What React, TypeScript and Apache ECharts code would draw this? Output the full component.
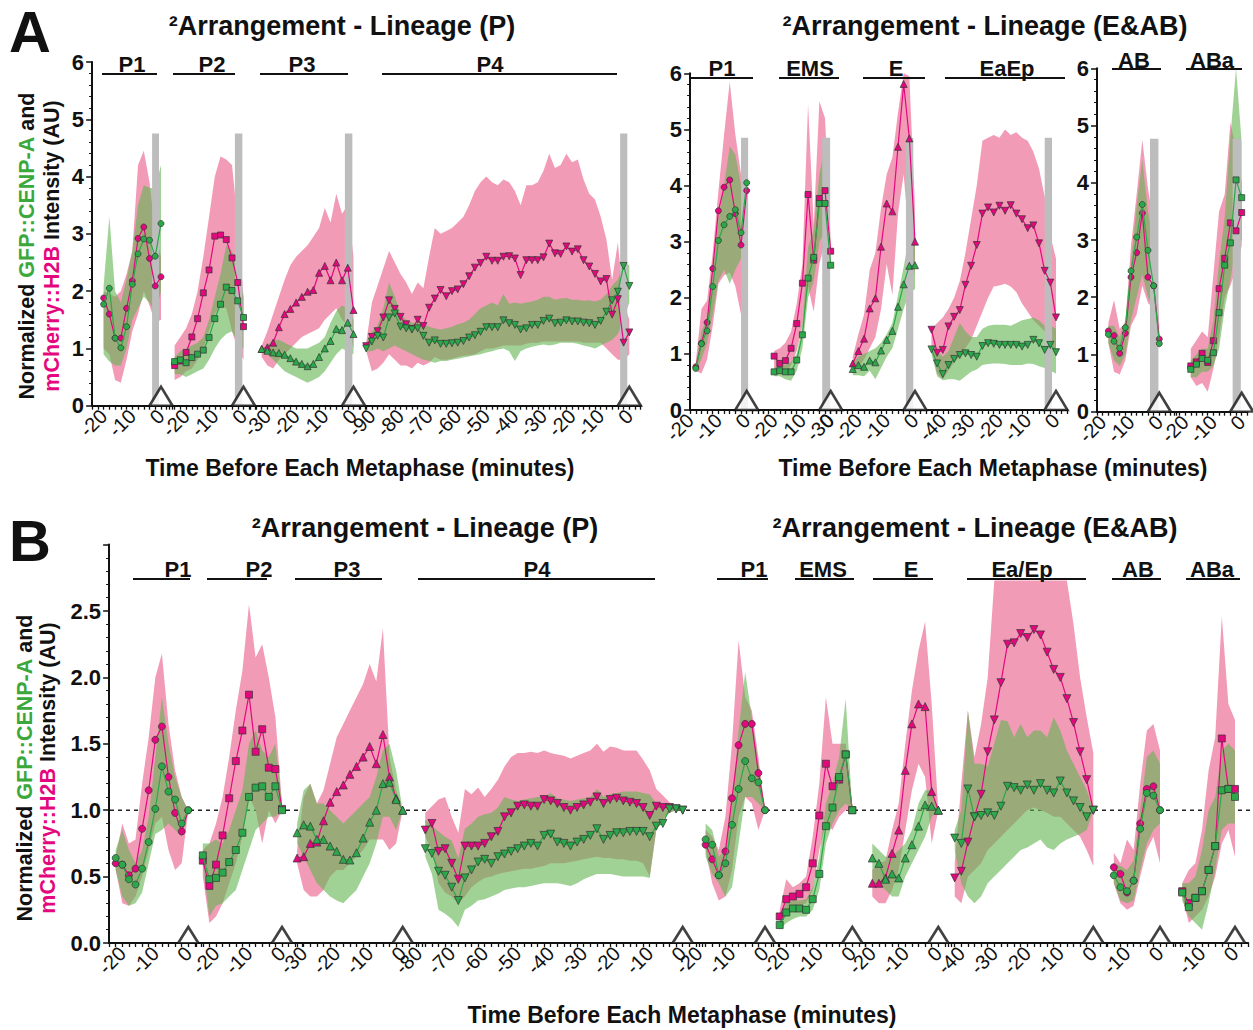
import React, { useEffect, useRef } from 'react';
import * as echarts from 'echarts';

const FONT = '"Liberation Sans", Arial, Helvetica, sans-serif';
const MAG = '#e4087e';
const GRN = '#2aa84a';
const PINK_BAND = '#f29bb7';
const GREEN_BAND = 'rgb(97,180,80)';
const GRAY = '#bdbdbd';

// ================= DATA: Panel A, Lineage (P) =================
const AL_P1_t = [-20, -18, -16, -14, -12, -10, -8, -6, -4, -2, 0];
const AL_P1_mag = [1.88, 1.6, 1.18, 1.18, 1.7, 2.18, 2.92, 3.12, 2.57, 2.09, 2.25];
const AL_P1_grn = [1.77, 2.05, 1.18, 1.01, 1.38, 2.12, 2.65, 2.91, 2.89, 2.61, 3.18];
const AL_P1_magHi = [2.0, 1.95, 1.9, 2.0, 2.3, 2.7, 4.2, 4.45, 3.9, 3.0, 2.6];
const AL_P1_magLo = [1.0, 0.9, 0.45, 0.4, 0.8, 1.3, 1.6, 2.0, 1.75, 1.45, 1.5];
const AL_P1_grnHi = [2.1, 3.3, 2.0, 1.8, 2.2, 2.7, 3.5, 3.85, 3.8, 3.8, 4.2];
const AL_P1_grnLo = [0.9, 0.77, 0.7, 0.7, 1.0, 1.5, 1.7, 1.9, 1.8, 1.6, 2.0];

const AL_P2_t = [-24, -22, -20, -18, -16, -14, -12, -10, -8, -6, -4, -2, 0];
const AL_P2_mag = [0.7, 0.78, 0.93, 1.2, 1.52, 1.97, 2.37, 2.96, 2.98, 2.9, 2.58, 2.15, 1.38];
const AL_P2_grn = [0.77, 0.8, 0.75, 0.84, 0.9, 0.97, 1.19, 1.52, 1.77, 2.07, 2.01, 1.83, 1.54];
const AL_P2_magHi = [1.05, 1.2, 1.35, 1.6, 2.0, 2.6, 3.3, 4.0, 4.35, 4.3, 4.2, 3.2, 1.9];
const AL_P2_magLo = [0.45, 0.5, 0.6, 0.65, 0.8, 1.0, 1.3, 1.6, 1.75, 1.7, 1.3, 1.0, 0.8];
const AL_P2_grnHi = [0.85, 0.95, 1.0, 1.05, 1.1, 1.2, 1.5, 1.9, 2.3, 2.8, 2.7, 2.4, 1.9];
const AL_P2_grnLo = [0.55, 0.55, 0.5, 0.55, 0.6, 0.65, 0.8, 1.0, 1.15, 1.25, 1.3, 1.1, 1.0];

const AL_P3_t = [-32, -30, -28, -26, -24, -22, -20, -18, -16, -14, -12, -10, -8, -6, -4, -2, 0];
const AL_P3_mag = [0.99, 1.02, 1.1, 1.37, 1.6, 1.69, 1.8, 1.9, 1.99, 2.02, 2.32, 2.44, 2.19, 2.5, 2.19, 2.41, 1.67];
const AL_P3_grn = [0.99, 0.96, 0.93, 0.92, 0.89, 0.83, 0.77, 0.73, 0.69, 0.73, 0.85, 1.0, 1.13, 1.34, 1.32, 1.45, 1.25];
const AL_P3_magHi = [1.05, 1.3, 1.6, 1.9, 2.2, 2.45, 2.6, 2.7, 2.8, 2.95, 3.1, 3.45, 3.2, 3.7, 3.35, 3.5, 2.6];
const AL_P3_magLo = [0.85, 0.7, 0.65, 0.8, 0.9, 1.0, 1.1, 1.2, 1.25, 1.3, 1.35, 1.5, 1.6, 1.7, 1.5, 1.4, 1.0];
const AL_P3_grnHi = [1.0, 1.05, 1.15, 1.15, 1.1, 1.05, 1.0, 1.0, 1.0, 1.05, 1.1, 1.2, 1.45, 1.65, 1.75, 1.7, 1.5];
const AL_P3_grnLo = [0.95, 0.9, 0.8, 0.7, 0.6, 0.55, 0.5, 0.45, 0.4, 0.45, 0.5, 0.6, 0.75, 0.9, 1.0, 0.95, 0.9];

const AL_P4_t = [-92, -90, -88, -86, -84, -82, -80, -78, -76, -74, -72, -70, -68, -66, -64, -62, -60, -58, -56, -54, -52, -50, -48, -46, -44, -42, -40, -38, -36, -34, -32, -30, -28, -26, -24, -22, -20, -18, -16, -14, -12, -10, -8, -6, -4, -2, 0];
const AL_P4_mag = [1.04, 1.2, 1.3, 1.54, 1.84, 1.69, 1.55, 1.42, 1.34, 1.5, 1.39, 1.71, 1.87, 2.02, 1.91, 2.0, 2.03, 2.12, 2.26, 2.41, 2.49, 2.6, 2.53, 2.53, 2.6, 2.61, 2.57, 2.28, 2.54, 2.54, 2.54, 2.59, 2.83, 2.66, 2.65, 2.78, 2.69, 2.73, 2.54, 2.43, 2.3, 2.17, 2.21, 1.59, 1.86, 1.1, 1.28];
const AL_P4_grn = [1.0, 1.12, 1.22, 1.19, 1.54, 1.61, 1.38, 1.35, 1.33, 1.35, 1.22, 1.1, 1.14, 1.08, 1.08, 1.09, 1.1, 1.13, 1.19, 1.23, 1.29, 1.37, 1.37, 1.37, 1.49, 1.44, 1.41, 1.33, 1.35, 1.41, 1.41, 1.48, 1.52, 1.44, 1.45, 1.49, 1.47, 1.47, 1.45, 1.44, 1.41, 1.48, 1.64, 1.84, 1.99, 2.44, 2.09];
const AL_P4_magHi = [1.1, 1.8, 2.1, 2.4, 2.7, 2.5, 2.3, 2.15, 1.95, 2.15, 2.05, 2.6, 3.1, 3.0, 3.05, 3.1, 3.2, 3.3, 3.5, 3.75, 3.9, 4.0, 3.9, 3.85, 3.95, 3.9, 3.75, 3.5, 3.85, 3.85, 3.9, 4.1, 4.4, 4.15, 4.2, 4.4, 4.25, 4.3, 3.95, 3.7, 3.6, 3.3, 2.9, 2.2, 2.85, 1.8, 1.5];
const AL_P4_magLo = [0.95, 0.6, 0.65, 0.75, 0.9, 0.8, 0.7, 0.7, 0.65, 0.75, 0.7, 0.75, 0.85, 0.8, 0.8, 0.82, 0.85, 0.87, 0.88, 0.9, 0.95, 1.0, 1.0, 1.02, 1.05, 1.05, 1.05, 1.05, 1.08, 1.1, 1.1, 1.12, 1.12, 1.12, 1.12, 1.12, 1.12, 1.12, 1.1, 1.1, 1.1, 1.1, 1.0, 0.9, 0.8, 0.8, 0.9];
const AL_P4_grnHi = [1.1, 1.3, 1.4, 1.7, 2.15, 1.9, 1.6, 1.5, 1.45, 1.45, 1.42, 1.38, 1.35, 1.33, 1.35, 1.38, 1.42, 1.45, 1.5, 1.6, 1.7, 1.75, 1.8, 1.75, 1.95, 1.78, 1.8, 1.78, 1.8, 1.82, 1.85, 1.9, 1.9, 1.85, 1.87, 1.88, 1.85, 1.85, 1.83, 1.84, 1.82, 1.85, 1.95, 2.1, 2.2, 2.5, 2.45];
const AL_P4_grnLo = [0.95, 0.95, 1.0, 0.95, 1.0, 1.05, 1.0, 0.95, 0.9, 0.85, 0.8, 0.78, 0.75, 0.78, 0.78, 0.8, 0.82, 0.84, 0.86, 0.88, 0.9, 0.93, 0.95, 0.98, 1.0, 0.95, 0.78, 0.95, 1.0, 1.03, 1.05, 1.07, 1.05, 1.07, 1.1, 1.1, 1.1, 1.08, 1.05, 1.03, 1.0, 1.05, 1.1, 1.15, 1.25, 1.5, 1.8];

// ================= DATA: Panel A, Lineage (E&AB) =================
const AR_P1_t = [-18, -16, -14, -12, -10, -8, -6, -4, -2, 0];
const AR_P1_mag = [0.77, 1.19, 1.56, 2.52, 3.55, 3.97, 4.1, 3.5, 2.94, 3.91];
const AR_P1_grn = [0.74, 1.18, 1.41, 2.2, 3.02, 3.3, 3.45, 3.57, 3.16, 4.05];
const AR_P1_magHi = [0.85, 1.8, 1.95, 2.8, 3.9, 4.9, 5.85, 4.9, 4.2, 4.15];
const AR_P1_magLo = [0.7, 0.65, 0.9, 1.5, 2.25, 2.4, 2.45, 2.2, 1.7, 3.7];
const AR_P1_grnHi = [0.8, 1.4, 1.65, 2.4, 3.4, 4.0, 4.7, 4.55, 4.0, 4.15];
const AR_P1_grnLo = [0.7, 0.9, 1.2, 1.7, 2.3, 2.5, 2.25, 2.5, 2.7, 3.95];

const AR_EMS_t = [-20, -18, -16, -14, -12, -10, -8, -6, -4, -2, 0];
const AR_EMS_mag = [0.96, 0.83, 0.88, 1.1, 1.54, 2.26, 3.84, 2.67, 3.77, 3.91, 2.83];
const AR_EMS_grn = [0.68, 0.7, 0.68, 0.68, 0.89, 1.34, 2.35, 2.72, 3.68, 3.68, 2.58];
const AR_EMS_magHi = [1.05, 1.1, 1.2, 1.4, 1.9, 2.6, 5.45, 3.3, 5.5, 5.2, 3.0];
const AR_EMS_magLo = [0.75, 0.65, 0.65, 0.8, 1.05, 1.5, 2.2, 1.75, 2.6, 3.0, 2.6];
const AR_EMS_grnHi = [0.75, 0.8, 0.8, 0.85, 1.0, 1.5, 2.9, 3.2, 4.2, 4.7, 2.7];
const AR_EMS_grnLo = [0.6, 0.6, 0.55, 0.52, 0.7, 1.1, 2.0, 2.3, 3.0, 3.2, 2.5];

const AR_E_t = [-22, -20, -18, -16, -14, -12, -10, -8, -6, -4, -2, 0];
const AR_E_mag = [0.83, 1.05, 1.27, 1.81, 1.99, 2.91, 3.68, 3.54, 4.69, 5.81, 4.84, 3.0];
const AR_E_grn = [0.73, 0.8, 0.77, 0.88, 0.85, 1.06, 1.25, 1.41, 1.84, 2.24, 2.57, 2.58];
const AR_E_magHi = [0.95, 1.35, 1.7, 2.5, 2.8, 3.6, 4.2, 4.5, 5.3, 6.0, 5.95, 3.6];
const AR_E_magLo = [0.7, 0.75, 0.9, 1.1, 1.3, 1.8, 2.6, 2.05, 3.5, 4.2, 3.0, 2.4];
const AR_E_grnHi = [0.85, 0.95, 1.0, 1.05, 1.1, 1.2, 1.35, 1.55, 2.05, 2.55, 3.1, 3.2];
const AR_E_grnLo = [0.62, 0.62, 0.6, 0.7, 0.55, 0.75, 0.95, 1.1, 1.45, 1.8, 2.1, 2.15];

const AR_EaEp_t = [-44, -42, -40, -38, -36, -34, -32, -30, -28, -26, -24, -22, -20, -18, -16, -14, -12, -10, -8, -6, -4, -2, 0];
const AR_EaEp_mag = [1.43, 1.02, 1.07, 1.49, 1.66, 1.78, 2.23, 2.57, 2.94, 3.5, 3.61, 3.52, 3.64, 3.55, 3.65, 3.5, 3.4, 3.24, 3.29, 2.97, 2.48, 2.27, 1.65];
const AR_EaEp_grn = [1.08, 0.83, 0.64, 0.8, 0.91, 0.98, 1.01, 0.98, 0.95, 1.14, 1.19, 1.18, 1.16, 1.16, 1.16, 1.16, 1.13, 1.16, 1.25, 1.19, 1.07, 1.16, 1.03];
const AR_EaEp_magHi = [1.45, 1.55, 1.65, 1.8, 2.0, 2.3, 2.8, 3.4, 4.0, 4.8, 4.85, 4.9, 4.85, 5.0, 4.9, 4.95, 4.85, 4.8, 4.6, 4.3, 3.8, 3.1, 2.7];
const AR_EaEp_magLo = [1.05, 0.65, 0.55, 0.7, 0.85, 0.95, 1.1, 1.25, 1.5, 1.75, 2.0, 2.2, 2.22, 2.25, 2.2, 2.1, 1.9, 1.75, 1.6, 1.5, 1.4, 1.2, 0.95];
const AR_EaEp_grnHi = [1.1, 1.05, 0.95, 1.05, 1.3, 1.55, 1.4, 1.3, 1.3, 1.45, 1.5, 1.52, 1.52, 1.52, 1.5, 1.55, 1.6, 1.62, 1.65, 1.6, 1.5, 1.5, 1.45];
const AR_EaEp_grnLo = [1.0, 0.6, 0.53, 0.55, 0.55, 0.52, 0.6, 0.68, 0.72, 0.8, 0.82, 0.83, 0.83, 0.82, 0.8, 0.8, 0.8, 0.83, 0.82, 0.78, 0.75, 0.7, 0.65];

const AR_AB_t = [-18, -16, -14, -12, -10, -8, -6, -4, -2, 0];
const AR_AB_mag = [1.41, 1.33, 1.02, 1.37, 2.35, 2.78, 3.47, 2.35, 2.2, 1.27];
const AR_AB_grn = [1.35, 1.23, 1.11, 1.47, 2.46, 3.05, 3.62, 2.82, 2.2, 1.19];
const AR_AB_magHi = [1.55, 1.95, 1.45, 1.55, 2.9, 3.8, 4.75, 3.9, 3.3, 1.5];
const AR_AB_magLo = [1.2, 0.7, 0.65, 0.9, 1.5, 1.7, 2.2, 1.9, 1.8, 1.1];
const AR_AB_grnHi = [1.5, 1.5, 1.3, 1.6, 2.6, 3.6, 4.4, 3.5, 2.9, 1.3];
const AR_AB_grnLo = [1.2, 0.9, 0.8, 1.0, 1.6, 2.0, 2.4, 2.0, 1.8, 1.1];

const AR_ABa_t = [-18, -16, -14, -12, -10, -8, -6, -4, -2, 0];
const AR_ABa_mag = [0.8, 0.87, 1.02, 0.86, 1.24, 2.15, 2.68, 3.3, 3.16, 3.48];
const AR_ABa_grn = [0.74, 0.83, 0.93, 0.9, 1.03, 1.73, 2.56, 2.95, 4.05, 3.74];
const AR_ABa_magHi = [1.1, 1.25, 1.4, 1.3, 2.4, 3.5, 3.8, 5.05, 4.6, 4.0];
const AR_ABa_magLo = [0.6, 0.45, 0.5, 0.35, 0.75, 1.3, 2.0, 2.2, 2.5, 2.9];
const AR_ABa_grnHi = [0.9, 1.0, 1.1, 1.1, 1.6, 2.6, 3.4, 4.8, 6.0, 4.7];
const AR_ABa_grnLo = [0.6, 0.6, 0.7, 0.7, 0.8, 1.1, 1.8, 2.3, 2.9, 3.0];

// ================= DATA: Panel B =================
const B_P1_t = [-22, -20, -18, -16, -14, -12, -10, -8, -6, -4, -2, 0];
const B_P1_mag = [0.6, 0.59, 0.51, 0.56, 0.86, 1.15, 1.53, 1.63, 1.25, 0.98, 0.84, 1.0];
const B_P1_grn = [0.64, 0.59, 0.48, 0.44, 0.56, 0.76, 1.01, 1.33, 1.14, 1.08, 0.9, 1.0];
const B_P1_magHi = [0.65, 0.9, 0.75, 0.78, 1.2, 1.55, 2.0, 2.18, 1.65, 1.3, 1.1, 1.0];
const B_P1_magLo = [0.55, 0.3, 0.28, 0.35, 0.5, 0.7, 0.9, 0.95, 0.7, 0.55, 0.6, 1.0];
const B_P1_grnHi = [0.7, 0.85, 0.7, 0.6, 0.7, 0.95, 1.4, 1.85, 1.5, 1.25, 1.1, 1.0];
const B_P1_grnLo = [0.55, 0.35, 0.28, 0.3, 0.38, 0.6, 0.82, 0.85, 0.9, 0.85, 0.8, 1.0];

const B_P2_t = [-24, -22, -20, -18, -16, -14, -12, -10, -8, -6, -4, -2, 0];
const B_P2_mag = [0.62, 0.43, 0.59, 0.81, 1.09, 1.37, 1.6, 1.87, 1.44, 1.61, 1.32, 1.31, 1.01];
const B_P2_grn = [0.66, 0.48, 0.49, 0.53, 0.61, 0.7, 0.83, 1.1, 1.17, 1.18, 1.1, 1.18, 1.0];
const B_P2_magHi = [0.7, 0.75, 0.9, 1.1, 1.4, 1.75, 2.05, 2.55, 2.15, 2.25, 2.0, 1.7, 1.05];
const B_P2_magLo = [0.5, 0.15, 0.2, 0.3, 0.45, 0.6, 0.8, 1.1, 1.0, 0.75, 1.0, 0.9, 1.0];
const B_P2_grnHi = [0.75, 0.75, 0.78, 0.75, 0.85, 1.0, 1.15, 1.5, 1.6, 1.45, 1.4, 1.5, 1.05];
const B_P2_grnLo = [0.6, 0.2, 0.28, 0.3, 0.35, 0.4, 0.55, 0.7, 0.85, 0.9, 0.95, 0.95, 1.0];

const B_P3_t = [-32, -30, -28, -26, -24, -22, -20, -18, -16, -14, -12, -10, -8, -6, -4, -2, 0];
const B_P3_mag = [0.64, 0.65, 0.75, 0.76, 0.92, 1.06, 1.14, 1.19, 1.27, 1.33, 1.4, 1.48, 1.35, 1.57, 1.25, 1.09, 1.0];
const B_P3_grn = [0.83, 0.89, 0.88, 0.78, 0.78, 0.73, 0.69, 0.63, 0.625, 0.68, 0.79, 0.91, 1.0, 1.2, 1.21, 1.08, 1.0];
const B_P3_magHi = [0.7, 1.1, 1.2, 1.05, 1.15, 1.35, 1.55, 1.65, 1.75, 1.85, 1.95, 2.1, 1.97, 2.37, 1.4, 1.15, 1.0];
const B_P3_magLo = [0.6, 0.4, 0.35, 0.35, 0.4, 0.5, 0.55, 0.55, 0.6, 0.65, 0.7, 0.78, 0.78, 0.78, 0.7, 0.75, 1.0];
const B_P3_grnHi = [0.9, 1.15, 1.2, 1.05, 1.05, 1.0, 0.95, 0.9, 0.95, 1.0, 1.05, 1.1, 1.25, 1.45, 1.5, 1.3, 1.0];
const B_P3_grnLo = [0.75, 0.65, 0.55, 0.45, 0.4, 0.35, 0.32, 0.3, 0.35, 0.4, 0.5, 0.6, 0.75, 0.95, 0.95, 0.85, 1.0];

const B_P4_t = [-78, -76, -74, -72, -70, -68, -66, -64, -62, -60, -58, -56, -54, -52, -50, -48, -46, -44, -42, -40, -38, -36, -34, -32, -30, -28, -26, -24, -22, -20, -18, -16, -14, -12, -10, -8, -6, -4, -2, 0];
const B_P4_mag = [0.85, 0.9, 0.69, 0.71, 0.6, 0.48, 0.73, 0.73, 0.73, 0.75, 0.8, 0.84, 0.95, 0.98, 1.03, 1.04, 1.03, 1.03, 1.08, 1.07, 1.05, 1.02, 1.0, 1.02, 1.04, 1.06, 1.1, 1.05, 1.08, 1.09, 1.07, 1.06, 1.05, 1.02, 0.96, 1.03, 1.02, 1.02, 1.01, 1.0];
const B_P4_grn = [0.71, 0.675, 0.54, 0.51, 0.42, 0.32, 0.49, 0.55, 0.61, 0.63, 0.6, 0.65, 0.67, 0.69, 0.71, 0.73, 0.75, 0.73, 0.81, 0.82, 0.76, 0.75, 0.73, 0.76, 0.78, 0.81, 0.86, 0.78, 0.81, 0.83, 0.83, 0.84, 0.84, 0.84, 0.8, 0.88, 0.9, 1.01, 1.01, 1.0];
const B_P4_magHi = [0.98, 1.03, 1.08, 1.1, 0.95, 0.83, 1.16, 1.12, 1.17, 1.1, 1.16, 1.23, 1.33, 1.4, 1.43, 1.43, 1.44, 1.43, 1.45, 1.43, 1.42, 1.41, 1.39, 1.41, 1.43, 1.45, 1.5, 1.44, 1.48, 1.47, 1.45, 1.45, 1.45, 1.38, 1.3, 1.16, 1.11, 1.06, 1.03, 1.0];
const B_P4_magLo = [0.8, 0.7, 0.45, 0.38, 0.35, 0.3, 0.35, 0.42, 0.46, 0.49, 0.5, 0.52, 0.53, 0.54, 0.55, 0.56, 0.56, 0.57, 0.58, 0.6, 0.6, 0.6, 0.61, 0.62, 0.63, 0.64, 0.65, 0.64, 0.64, 0.63, 0.63, 0.62, 0.62, 0.6, 0.5, 0.85, 0.93, 0.98, 1.0, 1.0];
const B_P4_grnHi = [0.93, 0.88, 0.84, 0.8, 0.77, 0.64, 0.86, 0.9, 0.95, 0.97, 0.98, 1.02, 1.1, 1.08, 1.07, 1.08, 1.09, 1.1, 1.1, 1.13, 1.09, 1.08, 1.07, 1.08, 1.09, 1.1, 1.16, 1.1, 1.12, 1.13, 1.14, 1.14, 1.14, 1.13, 1.12, 1.05, 1.03, 1.03, 1.02, 1.01];
const B_P4_grnLo = [0.65, 0.52, 0.25, 0.22, 0.18, 0.12, 0.25, 0.28, 0.32, 0.33, 0.35, 0.37, 0.4, 0.41, 0.42, 0.42, 0.43, 0.44, 0.45, 0.45, 0.45, 0.44, 0.43, 0.45, 0.48, 0.5, 0.52, 0.52, 0.52, 0.51, 0.5, 0.5, 0.5, 0.5, 0.49, 0.85, 0.93, 0.98, 1.0, 1.0];

const B_P1r_t = [-18, -16, -14, -12, -10, -8, -6, -4, -2, 0];
const B_P1r_mag = [0.74, 0.63, 0.51, 0.69, 1.09, 1.49, 1.65, 1.65, 1.28, 1.0];
const B_P1r_grn = [0.78, 0.74, 0.51, 0.6, 0.89, 1.16, 1.37, 1.24, 1.21, 1.0];
const B_P1r_magHi = [0.85, 0.8, 0.7, 0.95, 1.5, 2.28, 1.85, 1.75, 1.4, 1.0];
const B_P1r_magLo = [0.7, 0.45, 0.32, 0.35, 0.55, 0.95, 1.1, 1.05, 0.85, 1.0];
const B_P1r_grnHi = [0.9, 0.85, 0.65, 0.7, 1.05, 1.6, 2.04, 1.7, 1.35, 1.0];
const B_P1r_grnLo = [0.65, 0.52, 0.45, 0.35, 0.42, 0.75, 1.1, 1.1, 1.05, 1.0];

const B_EMS_t = [-22, -20, -18, -16, -14, -12, -10, -8, -6, -4, -2, 0];
const B_EMS_mag = [0.2, 0.33, 0.35, 0.37, 0.42, 0.6, 0.96, 1.35, 1.18, 1.23, 1.42, 1.0];
const B_EMS_grn = [0.135, 0.23, 0.26, 0.26, 0.25, 0.33, 0.52, 0.88, 1.02, 1.25, 1.42, 1.0];
const B_EMS_magHi = [0.25, 0.48, 0.42, 0.45, 0.5, 0.8, 1.2, 1.85, 1.5, 1.5, 1.5, 1.0];
const B_EMS_magLo = [0.15, 0.2, 0.25, 0.28, 0.3, 0.4, 0.7, 0.9, 0.85, 0.95, 1.0, 1.0];
const B_EMS_grnHi = [0.2, 0.3, 0.32, 0.32, 0.33, 0.42, 0.65, 1.05, 1.2, 1.4, 1.84, 1.0];
const B_EMS_grnLo = [0.1, 0.15, 0.18, 0.2, 0.2, 0.25, 0.4, 0.75, 0.9, 1.0, 1.05, 1.0];

const B_E_t = [-20, -18, -16, -14, -12, -10, -8, -6, -4, -2, 0];
const B_E_mag = [0.45, 0.45, 0.49, 0.675, 0.85, 1.3, 1.65, 1.8, 1.78, 1.14, 1.0];
const B_E_grn = [0.64, 0.6, 0.48, 0.52, 0.49, 0.64, 0.74, 0.88, 1.04, 1.03, 1.0];
const B_E_magHi = [0.55, 0.6, 0.62, 0.85, 1.05, 1.5, 1.9, 2.2, 2.42, 1.8, 1.0];
const B_E_magLo = [0.35, 0.3, 0.3, 0.4, 0.55, 0.85, 1.15, 1.35, 1.25, 0.75, 1.0];
const B_E_grnHi = [0.75, 0.7, 0.65, 0.65, 0.7, 0.75, 0.85, 1.05, 1.15, 1.15, 1.0];
const B_E_grnLo = [0.45, 0.45, 0.4, 0.35, 0.35, 0.5, 0.6, 0.7, 0.8, 0.95, 1.0];

const B_EaEp_t = [-42, -40, -38, -36, -34, -32, -30, -28, -26, -24, -22, -20, -18, -16, -14, -12, -10, -8, -6, -4, -2, 0];
const B_EaEp_mag = [0.49, 0.54, 0.76, 0.95, 1.12, 1.44, 1.68, 1.96, 2.25, 2.26, 2.33, 2.3, 2.36, 2.32, 2.19, 2.06, 2.0, 1.84, 1.66, 1.44, 1.23, 1.0];
const B_EaEp_grn = [0.79, 0.75, 1.16, 0.95, 0.96, 0.98, 0.96, 1.03, 1.18, 1.17, 1.15, 1.19, 1.15, 1.2, 1.15, 1.13, 1.22, 1.13, 1.07, 1.02, 0.95, 1.0];
const B_EaEp_magHi = [0.6, 1.2, 1.75, 1.4, 1.65, 2.0, 2.73, 2.73, 2.73, 2.73, 2.73, 2.73, 2.73, 2.73, 2.73, 2.73, 2.73, 2.73, 2.4, 2.0, 1.7, 1.43];
const B_EaEp_magLo = [0.35, 0.3, 0.5, 0.55, 0.6, 0.7, 0.75, 0.8, 0.85, 0.9, 0.95, 1.0, 1.02, 1.0, 0.98, 0.95, 0.95, 0.9, 0.85, 0.8, 0.7, 0.58];
const B_EaEp_grnHi = [0.85, 1.0, 1.75, 1.35, 1.35, 1.33, 1.5, 1.68, 1.67, 1.55, 1.65, 1.55, 1.6, 1.6, 1.55, 1.7, 1.6, 1.45, 1.35, 1.25, 1.15, 1.0];
const B_EaEp_grnLo = [0.7, 0.45, 0.35, 0.3, 0.35, 0.45, 0.5, 0.55, 0.6, 0.65, 0.7, 0.72, 0.75, 0.78, 0.72, 0.7, 0.75, 0.78, 0.8, 0.82, 0.85, 1.0];

const B_AB_t = [-14, -12, -10, -8, -6, -4, -2, 0];
const B_AB_mag = [0.57, 0.52, 0.38, 0.47, 0.9, 1.16, 1.18, 1.0];
const B_AB_grn = [0.51, 0.42, 0.39, 0.47, 0.86, 1.13, 1.11, 1.0];
const B_AB_magHi = [0.68, 0.6, 0.78, 0.7, 1.2, 1.6, 1.65, 1.45];
const B_AB_magLo = [0.45, 0.3, 0.25, 0.28, 0.5, 0.7, 0.8, 0.6];
const B_AB_grnHi = [0.6, 0.58, 0.55, 0.62, 1.0, 1.4, 1.45, 1.35];
const B_AB_grnLo = [0.45, 0.32, 0.3, 0.32, 0.55, 0.75, 0.85, 0.9];

const B_ABa_t = [-16, -14, -12, -10, -8, -6, -4, -2, 0];
const B_ABa_mag = [0.39, 0.3, 0.34, 0.39, 0.55, 0.73, 1.54, 1.16, 1.16];
const B_ABa_grn = [0.38, 0.27, 0.34, 0.39, 0.55, 0.73, 1.15, 1.16, 1.1];
const B_ABa_magHi = [0.45, 0.55, 0.6, 0.85, 1.3, 1.55, 2.46, 1.8, 1.68];
const B_ABa_magLo = [0.35, 0.15, 0.2, 0.25, 0.35, 0.5, 0.75, 0.85, 0.65];
const B_ABa_grnHi = [0.45, 0.45, 0.5, 0.7, 1.0, 1.1, 1.45, 1.5, 1.45];
const B_ABa_grnLo = [0.32, 0.2, 0.15, 0.1, 0.3, 0.55, 0.85, 0.9, 0.9];

// ================= LAYOUT =================
type PanelKey = 'AL' | 'AR' | 'AB' | 'B';
const PANELS: Record<PanelKey, { top: number; height: number; ymax: number; yint: number; grayTop: number }> = {
  AL: { top: 62, height: 343.7, ymax: 6, yint: 1, grayTop: 4.75 },
  AR: { top: 73.3, height: 336.7, ymax: 6, yint: 1, grayTop: 4.85 },
  AB: { top: 68.3, height: 343.4, ymax: 6, yint: 1, grayTop: 4.77 },
  B: { top: 544.6, height: 398.4, ymax: 3, yint: 0.5, grayTop: 0 },
};

interface Seg {
  panel: PanelKey; showY?: boolean; t0: number; s: number; min: number; max: number;
  sym: string; rot?: number; gray?: number[];
  t: number[]; mag: number[]; grn: number[]; mHi: number[]; mLo: number[]; gHi: number[]; gLo: number[];
}

const TRI_DOWN = 180;
const SEGS: Seg[] = [
  { panel: 'AL', showY: true, t0: 161, s: 2.87, min: -24, max: 4, sym: 'circle', gray: [-3.1, -0.7], t: AL_P1_t, mag: AL_P1_mag, grn: AL_P1_grn, mHi: AL_P1_magHi, mLo: AL_P1_magLo, gHi: AL_P1_grnHi, gLo: AL_P1_grnLo },
  { panel: 'AL', t0: 243.5, s: 2.87, min: -26, max: 4, sym: 'rect', gray: [-3, -0.4], t: AL_P2_t, mag: AL_P2_mag, grn: AL_P2_grn, mHi: AL_P2_magHi, mLo: AL_P2_magLo, gHi: AL_P2_grnHi, gLo: AL_P2_grnLo },
  { panel: 'AL', t0: 353.5, s: 2.87, min: -36, max: 4, sym: 'triangle', gray: [-3, -0.4], t: AL_P3_t, mag: AL_P3_mag, grn: AL_P3_grn, mHi: AL_P3_magHi, mLo: AL_P3_magLo, gHi: AL_P3_grnHi, gLo: AL_P3_grnLo },
  { panel: 'AL', t0: 629.3, s: 2.86, min: -94, max: 4, sym: 'triangle', rot: TRI_DOWN, gray: [-3.2, -0.7], t: AL_P4_t, mag: AL_P4_mag, grn: AL_P4_grn, mHi: AL_P4_magHi, mLo: AL_P4_magLo, gHi: AL_P4_grnHi, gLo: AL_P4_grnLo },
  { panel: 'AR', showY: true, t0: 746.7, s: 2.83, min: -20, max: 6, sym: 'circle', gray: [-2, 0.5], t: AR_P1_t, mag: AR_P1_mag, grn: AR_P1_grn, mHi: AR_P1_magHi, mLo: AR_P1_magLo, gHi: AR_P1_grnHi, gLo: AR_P1_grnLo },
  { panel: 'AR', t0: 830.7, s: 2.83, min: -24, max: 2, sym: 'rect', gray: [-3, -0.2], t: AR_EMS_t, mag: AR_EMS_mag, grn: AR_EMS_grn, mHi: AR_EMS_magHi, mLo: AR_EMS_magLo, gHi: AR_EMS_grnHi, gLo: AR_EMS_grnLo },
  { panel: 'AR', t0: 915, s: 2.83, min: -30, max: 6, sym: 'triangle', gray: [-3.2, -0.6], t: AR_E_t, mag: AR_E_mag, grn: AR_E_grn, mHi: AR_E_magHi, mLo: AR_E_magLo, gHi: AR_E_grnHi, gLo: AR_E_grnLo },
  { panel: 'AR', t0: 1056, s: 2.83, min: -44, max: 4, sym: 'triangle', rot: TRI_DOWN, gray: [-4, -1.4], t: AR_EaEp_t, mag: AR_EaEp_mag, grn: AR_EaEp_grn, mHi: AR_EaEp_magHi, mLo: AR_EaEp_magLo, gHi: AR_EaEp_grnHi, gLo: AR_EaEp_grnLo },
  { panel: 'AB', showY: true, t0: 1159.3, s: 2.83, min: -22, max: 6, sym: 'circle', gray: [-3.3, -0.3], t: AR_AB_t, mag: AR_AB_mag, grn: AR_AB_grn, mHi: AR_AB_magHi, mLo: AR_AB_magLo, gHi: AR_AB_grnHi, gLo: AR_AB_grnLo },
  { panel: 'AB', t0: 1241.7, s: 2.83, min: -24, max: 2, sym: 'rect', gray: [-3.2, -0.3], t: AR_ABa_t, mag: AR_ABa_mag, grn: AR_ABa_grn, mHi: AR_ABa_magHi, mLo: AR_ABa_magLo, gHi: AR_ABa_grnHi, gLo: AR_ABa_grnLo },
  { panel: 'B', showY: true, t0: 188.3, s: 3.3, min: -24, max: 4, sym: 'circle', t: B_P1_t, mag: B_P1_mag, grn: B_P1_grn, mHi: B_P1_magHi, mLo: B_P1_magLo, gHi: B_P1_grnHi, gLo: B_P1_grnLo },
  { panel: 'B', t0: 282, s: 3.3, min: -26, max: 6, sym: 'rect', t: B_P2_t, mag: B_P2_mag, grn: B_P2_grn, mHi: B_P2_magHi, mLo: B_P2_magLo, gHi: B_P2_grnHi, gLo: B_P2_grnLo },
  { panel: 'B', t0: 402.7, s: 3.3, min: -32, max: 6, sym: 'triangle', t: B_P3_t, mag: B_P3_mag, grn: B_P3_grn, mHi: B_P3_magHi, mLo: B_P3_magLo, gHi: B_P3_grnHi, gLo: B_P3_grnLo },
  { panel: 'B', t0: 682.7, s: 3.3, min: -80, max: 6, sym: 'triangle', rot: TRI_DOWN, t: B_P4_t, mag: B_P4_mag, grn: B_P4_grn, mHi: B_P4_magHi, mLo: B_P4_magLo, gHi: B_P4_grnHi, gLo: B_P4_grnLo },
  { panel: 'B', t0: 765, s: 3.3, min: -20, max: 4, sym: 'circle', t: B_P1r_t, mag: B_P1r_mag, grn: B_P1r_grn, mHi: B_P1r_magHi, mLo: B_P1r_magLo, gHi: B_P1r_grnHi, gLo: B_P1r_grnLo },
  { panel: 'B', t0: 852.3, s: 3.3, min: -24, max: 4, sym: 'rect', t: B_EMS_t, mag: B_EMS_mag, grn: B_EMS_grn, mHi: B_EMS_magHi, mLo: B_EMS_magLo, gHi: B_EMS_grnHi, gLo: B_EMS_grnLo },
  { panel: 'B', t0: 938.3, s: 3.3, min: -22, max: 4, sym: 'triangle', t: B_E_t, mag: B_E_mag, grn: B_E_grn, mHi: B_E_magHi, mLo: B_E_magLo, gHi: B_E_grnHi, gLo: B_E_grnLo },
  { panel: 'B', t0: 1093.3, s: 3.3, min: -44, max: 4, sym: 'triangle', rot: TRI_DOWN, t: B_EaEp_t, mag: B_EaEp_mag, grn: B_EaEp_grn, mHi: B_EaEp_magHi, mLo: B_EaEp_magLo, gHi: B_EaEp_grnHi, gLo: B_EaEp_grnLo },
  { panel: 'B', t0: 1160, s: 3.3, min: -16, max: 6, sym: 'circle', t: B_AB_t, mag: B_AB_mag, grn: B_AB_grn, mHi: B_AB_magHi, mLo: B_AB_magLo, gHi: B_AB_grnHi, gLo: B_AB_grnLo },
  { panel: 'B', t0: 1235, s: 3.3, min: -18, max: 4, sym: 'rect', t: B_ABa_t, mag: B_ABa_mag, grn: B_ABa_grn, mHi: B_ABa_magHi, mLo: B_ABa_magLo, gHi: B_ABa_grnHi, gLo: B_ABa_grnLo },
];

// Segment headers: [label, centerX, centerY, barX1, barX2, barY]
const HEADERS: [string, number, number, number, number, number][] = [
  ['P1', 132, 64, 102, 157, 74], ['P2', 212, 64, 173, 235, 74], ['P3', 302, 64, 260, 348, 74], ['P4', 490, 64, 382, 617, 74],
  ['P1', 722, 68, 691, 753, 78], ['EMS', 810, 68, 779, 839, 78], ['E', 896, 68, 863, 925, 78], ['EaEp', 1007, 68, 945, 1065, 78],
  ['AB', 1134, 60, 1112, 1161, 69], ['ABa', 1212, 60, 1186, 1242, 69],
  ['P1', 178, 569, 133, 190, 579], ['P2', 259, 569, 207, 267, 579], ['P3', 347, 569, 295, 382, 579], ['P4', 537, 569, 418, 655, 579],
  ['P1', 754, 569, 717, 768, 579], ['EMS', 823, 569, 795, 854, 579], ['E', 911, 569, 873, 933, 579], ['Ea/Ep', 1022, 569, 967, 1086, 579],
  ['AB', 1138, 569, 1112, 1161, 579], ['ABa', 1212, 569, 1186, 1240, 579],
];

function bandSeries(idx: number, t: number[], lo: number[], hi: number[], color: string, opacity: number, z: number) {
  return {
    type: 'custom', xAxisIndex: idx, yAxisIndex: idx, z, silent: true,
    data: [[t[0], lo[0]]],
    renderItem: (params: any, api: any) => {
      if (params.dataIndex !== 0) return null;
      const pts: number[][] = [];
      for (let i = 0; i < t.length; i++) pts.push(api.coord([t[i], hi[i]]));
      for (let i = t.length - 1; i >= 0; i--) pts.push(api.coord([t[i], lo[i]]));
      return { type: 'polygon', shape: { points: pts }, style: { fill: color, opacity } };
    },
  };
}

function grayBar(idx: number, g: number[], top: number) {
  return {
    type: 'custom', xAxisIndex: idx, yAxisIndex: idx, z: 4, silent: true,
    data: [[g[0], 0]],
    renderItem: (params: any, api: any) => {
      const a = api.coord([g[0], top]);
      const b = api.coord([g[1], 0]);
      return { type: 'rect', shape: { x: a[0], y: a[1], width: b[0] - a[0], height: b[1] - a[1] }, style: { fill: GRAY } };
    },
  };
}

function meanSeries(idx: number, t: number[], v: number[], color: string, sg: Seg, isB: boolean, z: number) {
  return {
    type: 'line', xAxisIndex: idx, yAxisIndex: idx, z,
    data: t.map((x, i) => [x, v[i]]),
    symbol: sg.sym, symbolRotate: sg.rot || 0,
    symbolSize: sg.sym === 'triangle' ? (isB ? 8 : 7) : (isB ? 7 : 6),
    lineStyle: { color, width: 1.2 },
    itemStyle: { color, borderColor: '#333', borderWidth: 0.7 },
    silent: true,
  };
}

function buildOption() {
  const grid: any[] = [];
  const xAxis: any[] = [];
  const yAxis: any[] = [];
  const series: any[] = [];
  const tickLbl = (v: number) => {
    const r = Math.round(v);
    return Math.abs(v - r) < 1e-6 && r % 10 === 0 ? String(r) : '';
  };

  SEGS.forEach((sg, i) => {
    const p = PANELS[sg.panel];
    const isB = sg.panel === 'B';
    grid.push({ left: sg.t0 + sg.min * sg.s, width: (sg.max - sg.min) * sg.s, top: p.top, height: p.height, containLabel: false });
    xAxis.push({
      type: 'value', gridIndex: i, min: sg.min, max: sg.max, interval: 2,
      axisLine: { show: true, onZero: false, lineStyle: { color: '#111', width: 2 } },
      axisTick: { show: true, length: 4, lineStyle: { color: '#111', width: 1.3 } },
      axisLabel: { formatter: tickLbl, rotate: 45, fontSize: 20, color: '#111', fontFamily: FONT, margin: 7 },
      splitLine: { show: false },
    });
    yAxis.push({
      type: 'value', gridIndex: i, min: 0, max: p.ymax, interval: p.yint, show: !!sg.showY,
      axisLine: { show: true, onZero: false, lineStyle: { color: '#111', width: 2 } },
      axisTick: { show: true, length: 6, lineStyle: { color: '#111', width: 1.5 } },
      minorTick: { show: true, splitNumber: 5, length: 3, lineStyle: { color: '#111', width: 1 } },
      axisLabel: {
        fontSize: 22, fontWeight: 'bold', color: '#111', fontFamily: FONT, margin: 8,
        formatter: (v: number) => (isB ? (v > 2.99 ? '' : v.toFixed(1)) : String(v)),
      },
      splitLine: { show: false },
    });
    series.push(bandSeries(i, sg.t, sg.mLo, sg.mHi, PINK_BAND, 1, 2));
    series.push(bandSeries(i, sg.t, sg.gLo, sg.gHi, GREEN_BAND, 0.6, 3));
    if (sg.gray) series.push(grayBar(i, sg.gray, p.grayTop));
    series.push(meanSeries(i, sg.t, sg.mag, MAG, sg, isB, 5));
    series.push(meanSeries(i, sg.t, sg.grn, GRN, sg, isB, 6));
    series.push({
      type: 'scatter', xAxisIndex: i, yAxisIndex: i, z: 8, silent: true,
      data: [[0, 0]], symbol: 'triangle',
      symbolSize: isB ? [20, 16] : [23, 19], symbolOffset: [0, isB ? -8 : -9.5],
      itemStyle: { color: '#fff', borderColor: '#111', borderWidth: 2.5 },
    });
  });

  // Reference dotted line at 1.0 across panel B
  const gi = SEGS.length;
  grid.push({ left: 110, width: 1140, top: PANELS.B.top, height: PANELS.B.height });
  xAxis.push({ type: 'value', gridIndex: gi, min: 0, max: 1, show: false });
  yAxis.push({ type: 'value', gridIndex: gi, min: 0, max: 3, show: false });
  series.push({
    type: 'line', xAxisIndex: gi, yAxisIndex: gi, z: 1, silent: true, symbol: 'none',
    data: [[0, 1], [1, 1]], lineStyle: { color: '#222', width: 1.6, type: [4, 4] },
  });

  const txt = (x: number, y: number, text: string, size: number, extra: any = {}) => ({
    type: 'text', x, y, silent: true, z: 20,
    style: { text, fill: '#111', fontSize: size, fontWeight: 'bold', fontFamily: FONT, align: 'center', verticalAlign: 'middle', ...extra },
  });
  const richStyle = (size: number) => ({
    k: { fill: '#111', color: '#111', fontSize: size, fontWeight: 'bold', fontFamily: FONT },
    g: { fill: '#3aa83a', color: '#3aa83a', fontSize: size, fontWeight: 'bold', fontFamily: FONT },
    m: { fill: MAG, color: MAG, fontSize: size, fontWeight: 'bold', fontFamily: FONT },
  });
  const yTitle = (x: number, y: number, text: string) => ({
    type: 'text', x, y, rotation: Math.PI / 2, silent: true, z: 20,
    style: { text, rich: richStyle(21.5), align: 'center', verticalAlign: 'middle', fontSize: 21.5, fontWeight: 'bold', fontFamily: FONT },
  });

  const graphic: any[] = [
    txt(9, 31, 'A', 58, { align: 'left' }),
    txt(9, 540, 'B', 58, { align: 'left' }),
    txt(342, 26, '²Arrangement - Lineage (P)', 27),
    txt(985, 26, '²Arrangement - Lineage (E&AB)', 27),
    txt(425, 528, '²Arrangement - Lineage (P)', 27),
    txt(975, 528, '²Arrangement - Lineage (E&AB)', 27),
    txt(360, 468, 'Time Before Each Metaphase (minutes)', 23),
    txt(993, 468, 'Time Before Each Metaphase (minutes)', 23),
    txt(682, 1015, 'Time Before Each Metaphase (minutes)', 23),
    yTitle(27, 246, '{k|Normalized }{g|GFP::CENP-A}{k| and}'),
    yTitle(52, 246, '{m|mCherry::H2B}{k| Intensity (AU)}'),
    yTitle(25, 768, '{k|Normalized }{g|GFP::CENP-A}{k| and}'),
    yTitle(48, 768, '{m|mCherry::H2B}{k| Intensity (AU)}'),
  ];
  HEADERS.forEach(([label, cx, cy, x1, x2, by]) => {
    graphic.push({ type: 'line', silent: true, z: 20, shape: { x1, y1: by, x2, y2: by }, style: { stroke: '#111', lineWidth: 2 } });
    graphic.push(txt(cx, cy, label, 22));
  });

  return { animation: false, backgroundColor: '#fff', grid, xAxis, yAxis, series, graphic };
}

export default function App() {
  const ref = useRef<HTMLDivElement>(null);
  useEffect(() => {
    if (!ref.current) return;
    const chart = echarts.init(ref.current, null, { renderer: 'svg' });
    chart.setOption(buildOption() as any);
    return () => chart.dispose();
  }, []);
  return <div ref={ref} style={{ position: 'fixed', left: 0, top: 0, width: 1253, height: 1030, background: '#fff' }} />;
}
